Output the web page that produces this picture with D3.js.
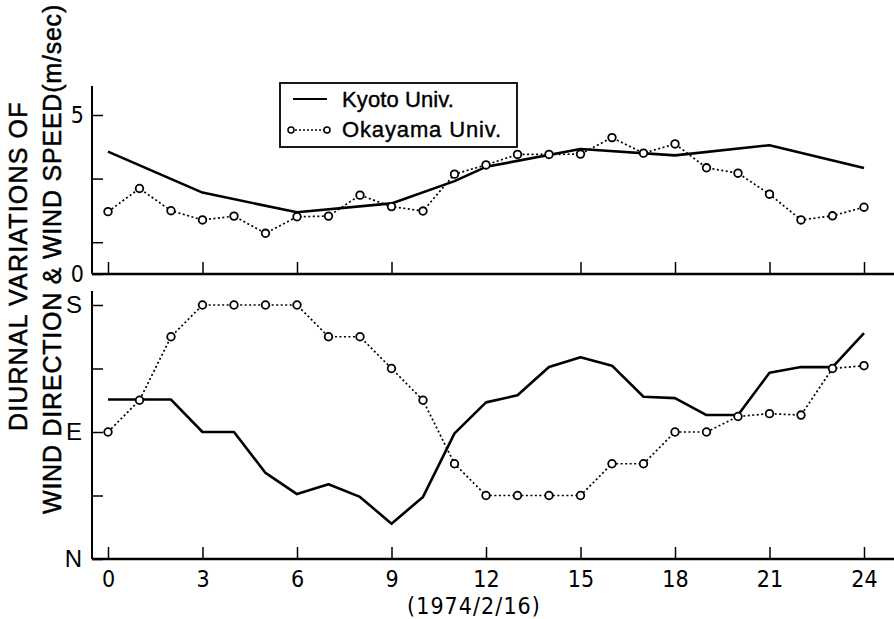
<!DOCTYPE html>
<html>
<head>
<meta charset="utf-8">
<script src="https://cdn.jsdelivr.net/npm/d3@7"></script>
<style>
  body { margin: 0; background: #fff; }
  svg { display: block; }
  .tick text { fill: #000; }
</style>
</head>
<body>
<div id="chart"></div>
<script>
// hours of the day (1974/2/16)
let hours = d3.range(0, 25);
let xTickHours = [0, 3, 6, 9, 12, 15, 18, 21, 24];
let topTickHours = [0, 3, 6, 9, 15, 18, 21, 24];

// wind speed (m/sec)
let kyotoSpeedHours = [0, 3, 6, 9, 11, 12, 15, 18, 21, 24];
let kyotoSpeed = [3.85, 2.56, 1.94, 2.22, 2.92, 3.37, 3.93, 3.73, 4.05, 3.33];
let okayamaSpeed = [1.96, 2.69, 1.99, 1.70, 1.82, 1.28, 1.80, 1.82, 2.48, 2.12, 1.98, 3.14, 3.43,
                    3.76, 3.76, 3.77, 4.29, 3.80, 4.09, 3.34, 3.17, 2.51, 1.70, 1.83, 2.10];

// wind direction (degrees, N = 0, E = 90, S = 180)
let kyotoDir = [113, 113, 113, 90, 90, 61, 46, 53, 44, 25, 44, 89, 111,
                116, 136, 143, 137, 115, 114, 102, 102, 132, 136, 136, 160];
let okayamaDir = [90, 112.5, 157.5, 180, 180, 180, 180, 157.5, 157.5, 135, 112.5, 67.5, 45,
                  45, 45, 45, 67.5, 67.5, 90, 90, 101, 103, 102, 135, 137];

let speedTicks = [0, 1, 3, 5];
let speedLabels = [0, 5];
let dirTicks = [0, 45, 90, 135, 180];
let dirLabels = {0: "N", 90: "E", 180: "S"};

let legendNames = ["Kyoto Univ.", "Okayama Univ."];

const width = 894, height = 619;
const digitFont = "'DejaVu Sans Condensed', 'Liberation Sans Narrow', sans-serif";
const letterFont = "'Liberation Sans', Arial, sans-serif";

let svg = d3.select("#chart").append("svg")
    .attr("width", width)
    .attr("height", height);

let x = d3.scaleLinear().domain([0, 24]).range([108, 864]);
let ySpeed = d3.scaleLinear().domain([0, 5]).range([274, 115]);
let yDir = d3.scaleLinear().domain([0, 180]).range([559, 305]);

// stretch a text to a given length by spacing the letters
function fitText(sel, target) {
    let n = sel.text().length;
    let natural = sel.node().getComputedTextLength();
    sel.attr("letter-spacing", (target - natural) / n);
}

// ---------- axes ----------
function drawFrame(top, bottom) {
    svg.append("line")
        .attr("x1", 92).attr("x2", 92)
        .attr("y1", top).attr("y2", bottom)
        .attr("stroke", "#000").attr("stroke-width", 2);
    svg.append("line")
        .attr("x1", 92).attr("x2", 894)
        .attr("y1", bottom).attr("y2", bottom)
        .attr("stroke", "#000").attr("stroke-width", 2.5);
}
drawFrame(86, 274);
drawFrame(291, 559);

// top panel: speed axis
let speedAxis = svg.append("g")
    .attr("transform", "translate(92,0)")
    .call(d3.axisLeft(ySpeed)
        .tickValues(speedTicks)
        .tickSize(-11)
        .tickPadding(8)
        .tickFormat(d => speedLabels.includes(d) ? d : ""));
speedAxis.select(".domain").remove();
speedAxis.selectAll("line").attr("stroke-width", 1.5);
speedAxis.selectAll("text")
    .attr("font-family", digitFont)
    .attr("font-size", 23);

let topX = svg.append("g")
    .attr("transform", "translate(0,274)")
    .call(d3.axisBottom(x).tickValues(topTickHours).tickSize(-12).tickFormat(""));
topX.select(".domain").remove();
topX.selectAll("line").attr("stroke-width", 1.5);

// bottom panel: direction axis
let dirAxis = svg.append("g")
    .attr("transform", "translate(92,0)")
    .call(d3.axisLeft(yDir)
        .tickValues(dirTicks)
        .tickSize(-11)
        .tickPadding(10)
        .tickFormat(d => dirLabels[d] || ""));
dirAxis.select(".domain").remove();
dirAxis.selectAll("line").attr("stroke-width", 1.5);
dirAxis.selectAll("text")
    .attr("font-family", letterFont)
    .attr("font-size", 24);

let botX = svg.append("g")
    .attr("transform", "translate(0,559)")
    .call(d3.axisBottom(x).tickValues(xTickHours).tickSize(-12).tickPadding(12));
botX.select(".domain").remove();
botX.selectAll("line").attr("stroke-width", 1.5);
botX.selectAll("text")
    .attr("font-family", digitFont)
    .attr("font-size", 23);

let dateLabel = svg.append("text")
    .attr("x", 474).attr("y", 614)
    .attr("text-anchor", "middle")
    .attr("font-family", digitFont)
    .attr("font-size", 23)
    .text("(1974/2/16)");
fitText(dateLabel, 134);

// ---------- series ----------
function drawSolid(xs, ys, y) {
    let line = d3.line().x((d, i) => x(xs[i])).y(d => y(d));
    svg.append("path")
        .datum(ys)
        .attr("d", line)
        .attr("fill", "none")
        .attr("stroke", "#000")
        .attr("stroke-width", 2.6)
        .attr("stroke-linejoin", "round");
}

function drawDotted(xs, ys, y) {
    let line = d3.line().x((d, i) => x(xs[i])).y(d => y(d));
    svg.append("path")
        .datum(ys)
        .attr("d", line)
        .attr("fill", "none")
        .attr("stroke", "#000")
        .attr("stroke-width", 1.7)
        .attr("stroke-dasharray", "2,2.5");
    svg.append("g").selectAll("circle")
        .data(ys)
        .enter()
        .append("circle")
            .attr("cx", (d, i) => x(xs[i]))
            .attr("cy", d => y(d))
            .attr("r", 3.8)
            .attr("fill", "#fff")
            .attr("stroke", "#000")
            .attr("stroke-width", 1.8);
}

drawSolid(kyotoSpeedHours, kyotoSpeed, ySpeed);
drawDotted(hours, okayamaSpeed, ySpeed);
drawSolid(hours, kyotoDir, yDir);
drawDotted(hours, okayamaDir, yDir);

// ---------- legend ----------
let legend = svg.append("g");
legend.append("rect")
    .attr("x", 280).attr("y", 83)
    .attr("width", 237).attr("height", 64)
    .attr("fill", "#fff")
    .attr("stroke", "#000")
    .attr("stroke-width", 1.8);
legend.append("line")
    .attr("x1", 293).attr("x2", 327)
    .attr("y1", 99).attr("y2", 99)
    .attr("stroke", "#000").attr("stroke-width", 2);
legend.append("line")
    .attr("x1", 291).attr("x2", 327)
    .attr("y1", 130).attr("y2", 130)
    .attr("stroke", "#000").attr("stroke-width", 1.4)
    .attr("stroke-dasharray", "2,2");
[291, 327].forEach(cx => {
    legend.append("circle")
        .attr("cx", cx).attr("cy", 130).attr("r", 3)
        .attr("fill", "#fff").attr("stroke", "#000").attr("stroke-width", 1.5);
});
let leg1 = legend.append("text")
    .attr("x", 342).attr("y", 107)
    .attr("font-family", letterFont)
    .attr("font-size", 22)
    .attr("stroke", "#000").attr("stroke-width", 0.4)
    .text(legendNames[0]);
fitText(leg1, 112);
let leg2 = legend.append("text")
    .attr("x", 342).attr("y", 137)
    .attr("font-family", letterFont)
    .attr("font-size", 22)
    .attr("stroke", "#000").attr("stroke-width", 0.4)
    .text(legendNames[1]);
fitText(leg2, 160);

// ---------- rotated axis title ----------
let title1 = svg.append("text")
    .attr("transform", "translate(100,431) rotate(-90)")
    .attr("x", 0).attr("y", -82)
    .attr("dominant-baseline", "central")
    .attr("font-family", letterFont)
    .attr("font-size", 25)
    .attr("stroke", "#000").attr("stroke-width", 0.5)
    .text("DIURNAL  VARIATIONS  OF");
fitText(title1, 332);
let title2 = svg.append("text")
    .attr("transform", "translate(100,514) rotate(-90)")
    .attr("x", 0).attr("y", -48)
    .attr("dominant-baseline", "central")
    .attr("font-family", letterFont)
    .attr("font-size", 25)
    .attr("stroke", "#000").attr("stroke-width", 0.5)
    .text("WIND DIRECTION & WIND SPEED(m/sec)");
fitText(title2, 510);
</script>
</body>
</html>
